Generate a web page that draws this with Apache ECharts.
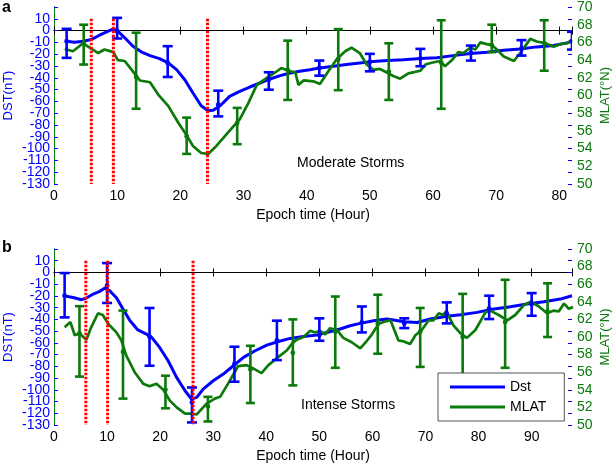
<!DOCTYPE html>
<html>
<head>
<meta charset="utf-8">
<script src="https://cdn.jsdelivr.net/npm/echarts@6/dist/echarts.min.js"></script>
<style>html,body{margin:0;padding:0;background:#fff}#c{width:614px;height:465px}</style>
</head>
<body>
<div id="c"></div>
<script>
// ---------- Panel a: Moderate storms ----------
const aDstX = [1.85,3.3,4.6,5.9,7.2,8.6,9.4,10.1,11.2,12.5,13.8,15.2,16.7,18.1,19.4,20.7,22,23.3,24.4,25.2,26.3,27.8,29.4,31,32.6,34.2,35.8,37.4,38.9,40.5,42.1,44.2,46.3,48.4,50,52.7,55.3,58,60.6,63.2,65.9,68.5,71.2,73.8,76.4,79.1,81.2,82];
const aDstY = [-9,-9.8,-9,-7.6,-3.9,-0.5,1.5,-0.5,-6.1,-13.2,-18,-21.2,-23.7,-27.4,-33.1,-41.6,-52.9,-63.7,-67.9,-67.6,-63.7,-55.7,-51.5,-47.8,-44.4,-41,-38.2,-35.9,-34.5,-33.1,-31.6,-30.2,-28.8,-27.4,-26.5,-25.4,-24.6,-23.7,-23.1,-21.2,-19.5,-18.3,-16.6,-15.5,-13.8,-12.7,-10.4,-9];
const aMlatX = [1.7,3,4.6,5.9,7,8,9.4,10.1,11.2,12.3,13.6,15.2,16.5,18.1,19.7,21,22,23.3,24.4,25.7,27.05,28.4,29.4,30.8,32.1,33.7,35,36,37.1,38.2,38.7,39.5,41.05,42.1,43.4,44.75,46.1,47.1,48.4,49.5,50.6,51.6,52.7,53.7,54.8,56.1,58,58.8,59.8,61.1,61.9,63,64,64.8,65.9,66.7,67.5,68.5,69.3,70.1,71.2,72.8,73.8,75.4,76.4,77.8,79.1,80.1,81.2,82];
const aMlatY = [65.25,65,65.9,65.3,64.8,65.2,64.9,64,63.9,62.9,61.7,61.5,60.1,58.8,56.9,55.5,54.3,53.5,53.4,54.3,55.4,56.5,57.3,59.2,61.2,62,62.6,63.1,62.8,62.6,61.2,61.7,61.6,61.3,62.7,64.1,65,65.4,64.8,63.5,62.9,63,62.6,62.2,61.9,62.5,62.8,63.5,63.7,63.9,63.3,64,64.9,64.8,65.4,65.2,66,65.8,65.7,65.2,64.4,63.9,64.8,66.4,66.1,65.9,65.5,65.8,65.9,66.3];
const aDstErrX = [2,10,18,26,34,42,50,58,66,74,82];
const aDstErrMid = [-9,-0.5,-27.4,-62.8,-41.6,-31.6,-26.5,-23.7,-18.9,-15,-9];
const aDstErrLow = [-23.1,-6.7,-39.3,-72.7,-50.1,-38.2,-34.5,-30.2,-25.4,-21.2,-16.1];
const aDstErrHigh = [1.5,10.8,-13.2,-50.9,-35.3,-25.4,-19.7,-15.5,-12.7,-8.1,-1];
const aMlatErrX = [4.7,13,21,29,37,45,53,61.3,69.3,77.6];
const aMlatErrMid = [65.9,62.1,55.4,56.9,62.9,64.1,62.7,63.7,65.7,65.9];
const aMlatErrLow = [63.5,58.5,53.4,54.5,59.5,60.6,59.5,58.5,64.9,62.8];
const aMlatErrHigh = [68,67.1,57.5,58.6,66.2,67.5,65.9,68.5,68,68.5];
const aStormX = [5.9,9.4,24.3];

// ---------- Panel b: Intense storms ----------
const bDstX = [1.8,3.6,5.2,6.1,7.4,8.6,9.6,10.5,11.8,13,14.3,15.8,17.4,18.4,19.9,21.5,23.1,24.7,25.9,26.9,28.1,30,31.9,33.8,35.7,37.9,40.1,42.3,44.5,47,49.5,51.4,53.9,55.8,57.7,60.2,62.7,64,65.9,68.4,70.9,74.1,76.6,79.7,82.9,86,89.1,92.3,95.4,97.6];
const bDstY = [-19.8,-21.3,-23.2,-21.8,-18.4,-16.1,-13.3,-15.6,-21.8,-31.2,-41,-49,-52.5,-55.3,-63.9,-75.2,-89.4,-100.8,-107.9,-106.5,-99.4,-92.3,-86.6,-79.5,-72.4,-66.7,-61.9,-58.8,-56.2,-54.5,-53.4,-51.1,-48.2,-45.4,-43.4,-41.1,-39.7,-40.6,-42,-42.6,-39.7,-37.4,-36,-34,-31.2,-29.2,-26.9,-24.9,-22.7,-19.8];
const bMlatX = [2,3.1,3.9,4.8,6.1,7,8.3,9.2,10.2,11.8,12.7,13.6,15.2,16.8,18,19.3,20.6,21.8,23.1,24.7,25.6,26.9,27.8,28.7,30.3,31.3,32.8,34.7,36.3,37.6,39.1,40.4,42,43.9,44.8,45.7,47,48.3,49.2,50.1,51.1,52,53.3,54.5,56.1,57.7,59,59.9,61.2,62.1,63.4,64.9,65.9,67.1,68.1,69.3,70.6,71.5,72.5,73.3,73.9,75.3,76.6,77.8,79.4,81.3,82.2,83.8,85.4,86.9,88.5,89.8,91.3,92.9,94.2,95.1,96.1,97,97.8];
const bMlatY = [61.1,61.7,60.2,60.4,59.7,61.1,62.7,62.5,61.5,60.5,59.6,57.9,56,54.7,54.4,54.7,54,52.8,52,51.3,51.3,51.2,51.8,52.4,53,53.2,54.7,56.7,56.8,56.4,55.9,56.8,57.6,58.5,59.2,59.7,60,60.7,60.5,60.7,60.3,61,60.8,59.9,59.4,58.7,59.6,60.3,61.5,61.7,61.9,59.6,59.5,59.2,60.2,60.8,61.9,61.9,62.7,62.5,62.9,61.3,60.4,59.9,60.8,62.8,63,62.5,61.9,62.5,63.6,64,63.5,62.7,63,62.9,63.8,63.2,63.4];
const bDstErrX = [2,10,18,26,34,42,50,58,66,74,82,90];
const bDstErrMid = [-19.8,-11.3,-54.8,-110.7,-78,-58,-53.4,-42.6,-43.4,-34.9,-30.6,-26.9];
const bDstErrLow = [-38.3,-26,-79.5,-127.8,-93.1,-74.7,-58.2,-51.1,-47.4,-43.4,-39.7,-36.9];
const bDstErrHigh = [-0.5,8,-30.3,-98,-63.3,-41.1,-39.1,-29,-39.1,-25.5,-19.8,-17.6];
const bMlatErrX = [4.8,13,21,29,37,45,53,61,69,77,85,93];
const bMlatErrMid = [60.4,58.3,54,52.1,56.3,58.2,60.6,61.5,60.6,60,61.7,62.9];
const bMlatErrLow = [55.5,53,51.9,50.4,52.5,54.5,56.5,58.1,56.6,55.1,56.5,60];
const bMlatErrHigh = [63.5,63,55.6,53.2,59,62,64.6,64.8,63.3,64.9,66.5,66.1];
const bStormX = [6,10.1,26.2];

// axis settings and tick labels
const dstMin = -130, dstMax = 20, dstStep = 10, dstLabelMax = 10;
const dstTickLabels = [-130,-120,-110,-100,-90,-80,-70,-60,-50,-40,-30,-20,-10,0,10];
const mlatMin = 50, mlatMax = 70, mlatStep = 2;
const aXMax = 82, bXMax = 97.6, xStep = 10;
const seriesNames = ['Dst', 'MLAT'];
const panelLetters = ['a', 'b'];
const panelTitles = ['Moderate Storms', 'Intense Storms'];
const xName = 'Epoch time (Hour)';
const dstName = 'DST(nT)';
const mlatName = 'MLAT(°N)';

const BLUE = '#0000ff', GREEN = '#0b7a0b', RED = '#ff0000';
const FONT = "'Liberation Sans', Arial, sans-serif";

const zip = (xs, ys) => xs.map((x, i) => [x, ys[i]]);
const zipErr = (xs, lo, hi, mid) => xs.map((x, i) => [x, lo[i], hi[i], mid[i]]);

function errRender(color, cap) {
  return function (params, api) {
    const x = api.value(0);
    const pLo = api.coord([x, api.value(1)]);
    const pHi = api.coord([x, api.value(2)]);
    const pMid = api.coord([x, api.value(3)]);
    const st = { stroke: color, lineWidth: 2.6, fill: null };
    return {
      type: 'group',
      children: [
        { type: 'line', shape: { x1: pLo[0], y1: pLo[1], x2: pHi[0], y2: pHi[1] }, style: st },
        { type: 'line', shape: { x1: pLo[0] - cap, y1: pLo[1], x2: pLo[0] + cap, y2: pLo[1] }, style: st },
        { type: 'line', shape: { x1: pHi[0] - cap, y1: pHi[1], x2: pHi[0] + cap, y2: pHi[1] }, style: st },
        { type: 'circle', shape: { cx: pMid[0], cy: pMid[1], r: 2.4 }, style: { fill: color } }
      ]
    };
  };
}
function stormRender(params, api) {
  const x = api.value(0);
  const p1 = api.coord([x, dstLabelMax]);
  const p2 = api.coord([x, dstMin]);
  return {
    type: 'line',
    shape: { x1: p1[0], y1: p1[1], x2: p2[0], y2: p2[1] },
    style: { stroke: RED, lineWidth: 3, lineDash: [2.5, 1.5], fill: null }
  };
}
// Dst tick labels (drawn at the axis' own tick positions)
function dstLabelRender(params, api) {
  const v = api.value(0);
  const p = api.coord([0, v]);
  return {
    type: 'text', x: p[0] - 4, y: p[1],
    style: { text: String(v), fill: BLUE, font: '14px ' + FONT, align: 'right', verticalAlign: 'middle' }
  };
}

function xAxes(gi, max) {
  return [
    {
      type: 'value', gridIndex: gi, position: 'bottom', min: 0, max: max, interval: xStep,
      axisLine: { lineStyle: { color: '#000', width: 1 } },
      axisTick: { inside: true, length: 4, lineStyle: { color: '#000' } },
      axisLabel: { color: '#000', fontSize: 14, fontFamily: FONT, margin: 5, showMinLabel: true,
        formatter: v => (Math.abs(v % xStep) < 1e-6 ? String(v) : '') },
      splitLine: { show: false },
      name: xName, nameLocation: 'middle', nameGap: 24,
      nameTextStyle: { color: '#000', fontSize: 14, fontFamily: FONT }
    },
    {
      type: 'value', gridIndex: gi, position: 'top', min: 0, max: max, interval: xStep,
      axisLine: { lineStyle: { color: '#000', width: 1 } },
      axisTick: { inside: true, length: 4, lineStyle: { color: '#000' } },
      axisLabel: { show: false }, splitLine: { show: false }
    }
  ];
}
function yAxes(gi) {
  return [
    {
      type: 'value', gridIndex: gi, position: 'left', min: dstMin, max: dstMax, interval: dstStep,
      axisLine: { show: true, lineStyle: { color: BLUE, width: 1 } },
      axisTick: { show: true, inside: true, length: 4, lineStyle: { color: BLUE } },
      axisLabel: { show: false },
      splitLine: { show: false },
      name: dstName, nameLocation: 'middle', nameRotate: 90, nameGap: 39, nameMoveOverlap: false,
      nameTextStyle: { color: BLUE, fontSize: 13, fontFamily: FONT }
    },
    {
      type: 'value', gridIndex: gi, position: 'right', min: mlatMin, max: mlatMax, interval: mlatStep,
      axisLine: { show: true, lineStyle: { color: GREEN, width: 1 } },
      axisTick: { show: false },
      axisLabel: { color: GREEN, fontSize: 14, fontFamily: FONT, margin: 5, showMinLabel: true, showMaxLabel: true },
      splitLine: { show: false },
      name: mlatName, nameLocation: 'middle', nameRotate: 90, nameGap: 27, nameMoveOverlap: false,
      nameTextStyle: { color: GREEN, fontSize: 13, fontFamily: FONT }
    },
    {
      type: 'value', gridIndex: gi, position: 'right', offset: 0, min: dstMin, max: dstMax, interval: dstStep,
      axisLine: { show: false },
      axisTick: { show: true, inside: true, length: 4, lineStyle: { color: BLUE } },
      axisLabel: { show: false }, splitLine: { show: false }
    }
  ];
}

function panelSeries(k, dx, dy, mx, my, dErr, mErr, storms) {
  const xi = k * 2, yd = k * 3, ym = k * 3 + 1;
  return [
    { name: seriesNames[0], type: 'line', xAxisIndex: xi, yAxisIndex: yd, data: zip(dx, dy),
      symbol: 'none', lineStyle: { color: BLUE, width: 3 }, itemStyle: { color: BLUE }, z: 3, silent: true },
    { name: seriesNames[1], type: 'line', xAxisIndex: xi, yAxisIndex: ym, data: zip(mx, my),
      symbol: 'none', lineStyle: { color: GREEN, width: 2.7 }, itemStyle: { color: GREEN }, z: 3, silent: true },
    { name: 'dstErr' + k, type: 'custom', xAxisIndex: xi, yAxisIndex: yd, data: dErr,
      renderItem: errRender(BLUE, 5), encode: { x: 0, y: [1, 2] }, clip: true, z: 4, silent: true },
    { name: 'mlatErr' + k, type: 'custom', xAxisIndex: xi, yAxisIndex: ym, data: mErr,
      renderItem: errRender(GREEN, 4.5), encode: { x: 0, y: [1, 2] }, clip: true, z: 4, silent: true },
    { name: 'storm' + k, type: 'custom', xAxisIndex: xi, yAxisIndex: yd, data: storms.map(v => [v]),
      renderItem: stormRender, encode: { x: 0 }, z: 5, silent: true },
    { name: 'dstLabels' + k, type: 'custom', xAxisIndex: xi, yAxisIndex: yd, data: dstTickLabels.map(v => [v]),
      renderItem: dstLabelRender, encode: { y: 0 }, clip: false, z: 6, silent: true }
  ];
}

const chart = echarts.init(document.getElementById('c'), null, { renderer: 'canvas' });
chart.setOption({
  animation: false,
  backgroundColor: '#fff',
  textStyle: { fontFamily: FONT },
  grid: [
    { left: 54, top: 7, width: 518, height: 177, outerBoundsMode: 'none', containLabel: false },
    { left: 54, top: 249, width: 518, height: 176, outerBoundsMode: 'none', containLabel: false }
  ],
  xAxis: [...xAxes(0, aXMax), ...xAxes(1, bXMax)],
  yAxis: [...yAxes(0), ...yAxes(1)],
  legend: {
    data: [
      { name: seriesNames[0], icon: 'rect', itemStyle: { color: BLUE } },
      { name: seriesNames[1], icon: 'rect', itemStyle: { color: GREEN } }
    ],
    orient: 'vertical', left: 438, top: 373,
    itemWidth: 55, itemHeight: 3, itemGap: 4, padding: [6, 18, 6, 12],
    borderColor: '#555', borderWidth: 1, backgroundColor: '#fff', borderRadius: 0,
    textStyle: { color: '#000', fontSize: 14, fontFamily: FONT, lineHeight: 16 }, selectedMode: false, z: 10
  },
  graphic: [
    { type: 'text', left: 2, top: 0, style: { text: panelLetters[0], font: 'bold 16px ' + FONT, fill: '#000' } },
    { type: 'text', left: 2, top: 240, style: { text: panelLetters[1], font: 'bold 16px ' + FONT, fill: '#000' } },
    { type: 'text', x: 297, y: 163, style: { text: panelTitles[0], font: '14px ' + FONT, fill: '#000', verticalAlign: 'middle' } },
    { type: 'text', x: 301, y: 405, style: { text: panelTitles[1], font: '14px ' + FONT, fill: '#000', verticalAlign: 'middle' } }
  ],
  series: [
    ...panelSeries(0, aDstX, aDstY, aMlatX, aMlatY,
      zipErr(aDstErrX, aDstErrLow, aDstErrHigh, aDstErrMid),
      zipErr(aMlatErrX, aMlatErrLow, aMlatErrHigh, aMlatErrMid), aStormX),
    ...panelSeries(1, bDstX, bDstY, bMlatX, bMlatY,
      zipErr(bDstErrX, bDstErrLow, bDstErrHigh, bDstErrMid),
      zipErr(bMlatErrX, bMlatErrLow, bMlatErrHigh, bMlatErrMid), bStormX)
  ]
});
</script>
</body>
</html>
